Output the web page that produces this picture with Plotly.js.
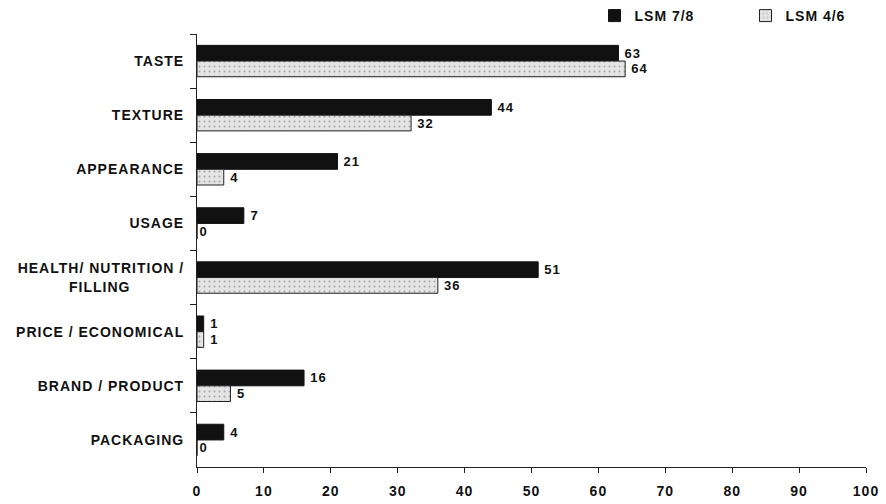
<!DOCTYPE html>
<html><head><meta charset="utf-8">
<script src="https://cdn.plot.ly/plotly-3.0.1.min.js"></script>
<style>body{margin:0;background:#fff}
#chart .ytick text, #chart .xtick text, #chart .legendtext, #chart .bartext{letter-spacing:1px}
</style></head>
<body><div id="chart" style="width:886px;height:504px"></div>
<script>
const categories = ["TASTE","TEXTURE","APPEARANCE","USAGE","HEALTH/ NUTRITION /<br>FILLING\u00a0\u00a0\u00a0\u00a0\u00a0\u00a0\u00a0\u00a0\u00a0\u00a0\u00a0","PRICE / ECONOMICAL","BRAND / PRODUCT","PACKAGING"];
const lsm78 = [63,44,21,7,51,1,16,4];
const lsm46 = [64,32,4,0,36,1,5,0];
const xTicks = [0,10,20,30,40,50,60,70,80,90,100];
const seriesNames = ["LSM 7/8","LSM 4/6"];

const fontFam = "Arial, 'Liberation Sans', sans-serif";
const traces = [
  {type:'bar', orientation:'h', name:seriesNames[0], y:categories, x:lsm78,
   marker:{color:'#111111', line:{color:'#111111', width:1}},
   text:lsm78.map(v => '\u00a0' + v), textposition:'outside', cliponaxis:false,
   textfont:{family:fontFam, size:13, color:'#111', weight:'bold'}},
  {type:'bar', orientation:'h', name:seriesNames[1], y:categories, x:lsm46,
   marker:{color:'#dcdcdc', line:{color:'#222222', width:1},
           pattern:{shape:'.', fgcolor:'#a8a8a8', bgcolor:'#e4e4e4', size:5, solidity:0.12}},
   text:lsm46.map(v => (v > 0 ? '\u00a0' : '') + v), textposition:'outside', cliponaxis:false,
   textfont:{family:fontFam, size:13, color:'#111', weight:'bold'}}
];
const layout = {
  width:886, height:504,
  margin:{l:197, r:20, t:34, b:37},
  paper_bgcolor:'#fff', plot_bgcolor:'#fff',
  barmode:'group', bargap:0.42, bargroupgap:0,
  font:{family:fontFam, size:14, color:'#111', weight:'bold'},
  showlegend:true,
  legend:{orientation:'h', xref:'container', yref:'container', x:0.671, xanchor:'left', y:1.0, yanchor:'top',
          font:{family:fontFam, size:14, color:'#111', weight:'bold'},
          itemwidth:30, tracegroupgap:0, entrywidth:106, bgcolor:'rgba(0,0,0,0)'},
  xaxis:{range:[0,100], tickvals:xTicks, ticktext:xTicks.map(String),
         showgrid:false, zeroline:false, showline:true, linecolor:'#222', linewidth:1,
         ticks:'outside', ticklen:5, tickcolor:'#222', ticklabelstandoff:6,
         tickfont:{family:fontFam, size:14, color:'#111', weight:'bold'}},
  yaxis:{type:'category', autorange:'reversed', showgrid:false, zeroline:false,
         showline:true, linecolor:'#222', linewidth:1,
         ticks:'outside', ticklen:6, tickcolor:'#222', tickson:'boundaries',
         ticklabelstandoff:9,
         tickfont:{family:fontFam, size:14, color:'#111', weight:'bold'}}
};
Plotly.newPlot('chart', traces, layout, {displayModeBar:false, staticPlot:true});
</script></body></html>
